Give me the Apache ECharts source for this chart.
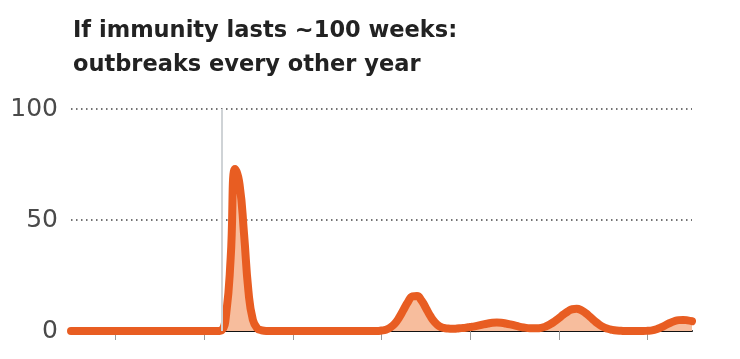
<!DOCTYPE html>
<html>
<head>
<meta charset="utf-8">
<script src="https://cdn.jsdelivr.net/npm/echarts@6/dist/echarts.min.js"></script>
<style>
html,body{margin:0;padding:0;background:#fff;}
#c{width:740px;height:359px;}
</style>
</head>
<body>
<div id="c"></div>
<script>
// Title
const titleText = 'If immunity lasts ~100 weeks:\noutbreaks every other year';
// Y axis ticks
const yTicks = [0, 50, 100];
// Simulated cases (share, %), one value per time step (141 steps = 7 years)
const cases = [
  0,0,0,0,0,0,0,0,0,0, 0,0,0,0,0,0,0,0,0,0, 0,0,0,0,0,0,0,0,0,0, 0,0,0,0,
  0.4, 8, 33, 73, 66, 44, 18, 5, 1.2, 0.3,
  0,0,0,0,0,0,0,0,0,0, 0,0,0,0,0,0,0,0,0,0, 0,0,0,0,0,0,
  0.2, 0.6, 1.6, 3.3, 6.1, 9.7, 13.2, 15.6, 15.8, 13.8,
  10.4, 6.8, 4.0, 2.2, 1.4, 1.1, 1.0, 1.1, 1.3, 1.5,
  1.8, 2.1, 2.5, 3.0, 3.4, 3.7, 3.8, 3.7, 3.4, 3.0,
  2.5, 2.0, 1.6, 1.3, 1.2, 1.2, 1.4, 2.0, 3.0, 4.3,
  5.8, 7.4, 8.8, 9.8, 10.0, 9.4, 8.1, 6.4, 4.6, 3.0,
  1.8, 1.0, 0.5, 0.2, 0.1, 0, 0, 0, 0, 0,
  0.1, 0.3, 0.8, 1.6, 2.6, 3.6, 4.4, 4.9, 5.0, 4.8, 4.4
];
// Time steps (categories)
const steps = cases.map((_, i) => String(i));
// Year tick positions (mid-year marks) and the highlighted start step
const tickSteps = [10, 30, 50, 70, 90, 110, 130];
const markerStep = 34;

const chart = echarts.init(document.getElementById('c'), null, {renderer: 'canvas'});
chart.setOption({
  animation: false,
  backgroundColor: '#fff',
  title: {
    text: titleText,
    left: 68,
    top: 9,
    textStyle: {
      fontFamily: 'DejaVu Sans',
      fontWeight: 'bold',
      fontSize: 22.5,
      lineHeight: 34,
      color: '#222'
    }
  },
  grid: {left: 71, right: 48, top: 109, bottom: 28, containLabel: false},
  xAxis: {
    type: 'category',
    data: steps,
    boundaryGap: false,
    axisLine: {show: true, lineStyle: {color: '#111', width: 2}},
    axisTick: {
      show: true,
      length: 9,
      interval: (idx) => tickSteps.indexOf(idx) >= 0,
      lineStyle: {color: '#999', width: 1}
    },
    axisLabel: {show: false},
    splitLine: {show: false}
  },
  yAxis: {
    type: 'value',
    min: yTicks[0],
    max: yTicks[yTicks.length - 1],
    interval: 50,
    axisLine: {show: false},
    axisTick: {show: false},
    axisLabel: {
      margin: 13,
      fontFamily: 'DejaVu Sans',
      fontWeight: 'normal',
      fontSize: 25,
      color: '#4a4a4a'
    },
    splitLine: {
      show: true,
      lineStyle: {color: '#444', width: 1.5, type: [1.5, 3.5]}
    }
  },
  series: [{
    type: 'line',
    data: cases,
    smooth: 0.5,
    symbol: 'none',
    lineStyle: {color: '#e85d22', width: 8, cap: 'round', join: 'round'},
    areaStyle: {color: '#f7bd9d', opacity: 1},
    markLine: {
      silent: true,
      symbol: 'none',
      label: {show: false},
      lineStyle: {color: '#cfd3d6', width: 2, type: 'solid'},
      data: [[{xAxis: markerStep, yAxis: 0}, {xAxis: markerStep, yAxis: 100}]]
    },
    z: 3
  }]
});
</script>
</body>
</html>
